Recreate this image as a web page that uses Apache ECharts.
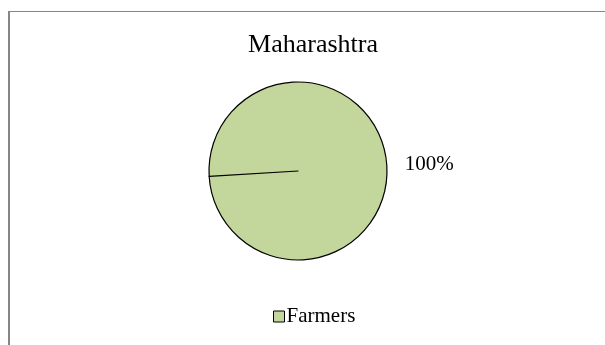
<!DOCTYPE html>
<html>
<head>
<meta charset="utf-8">
<script src="https://cdn.jsdelivr.net/npm/echarts@6/dist/echarts.min.js"></script>
<style>
  html, body { margin: 0; padding: 0; background: #ffffff; overflow: hidden; }
  #frame {
    position: absolute; left: 8px; top: 11px; width: 700px; height: 400px;
    border-left: 2px solid #858585; border-top: 1px solid #858585;
  }
  #chart { position: absolute; left: 0; top: 0; width: 605px; height: 345px; }
</style>
</head>
<body>
<div id="frame"></div>
<div id="chart"></div>
<script>
// Share of workers by group in Maharashtra
const chartTitle = 'Maharashtra';
const categories = ['Farmers', 'Others'];
const values = [100, 0];
const legendItems = ['Farmers'];

const sliceColors = ['#c3d69b', '#c3d69b'];

const chart = echarts.init(document.getElementById('chart'), null, { renderer: 'canvas' });

const pieData = categories.map((name, i) => ({
  name: name,
  value: values[i],
  itemStyle: { color: sliceColors[i] },
  label: { show: values[i] > 0 }
}));

chart.setOption({
  animation: false,
  title: {
    text: chartTitle,
    left: 308,
    top: 27,
    textAlign: 'center',
    textStyle: {
      fontFamily: 'Liberation Serif',
      fontWeight: 'normal',
      fontSize: 26,
      color: '#000000'
    }
  },
  legend: {
    data: legendItems,
    left: 268,
    top: 301,
    itemWidth: 11,
    itemHeight: 11,
    itemGap: 4,
    icon: 'rect',
    itemStyle: { borderColor: '#000000', borderWidth: 1 },
    textStyle: {
      fontFamily: 'Liberation Serif',
      fontSize: 21,
      color: '#000000',
      padding: [0, 0, 0, -3]
    }
  },
  series: [{
    type: 'pie',
    center: [298, 171],
    radius: 89,
    startAngle: 183.4,
    clockwise: true,
    stillShowZeroSum: true,
    avoidLabelOverlap: false,
    itemStyle: { borderColor: '#000000', borderWidth: 1.2 },
    label: {
      show: true,
      position: 'outside',
      formatter: params => Math.round(params.percent) + '%',
      fontFamily: 'Liberation Serif',
      fontSize: 21,
      color: '#000000',
      distanceToLabelLine: 5
    },
    labelLine: { show: false, length: 13, length2: 0 },
    emphasis: { disabled: true },
    data: pieData
  }]
});
</script>
</body>
</html>
